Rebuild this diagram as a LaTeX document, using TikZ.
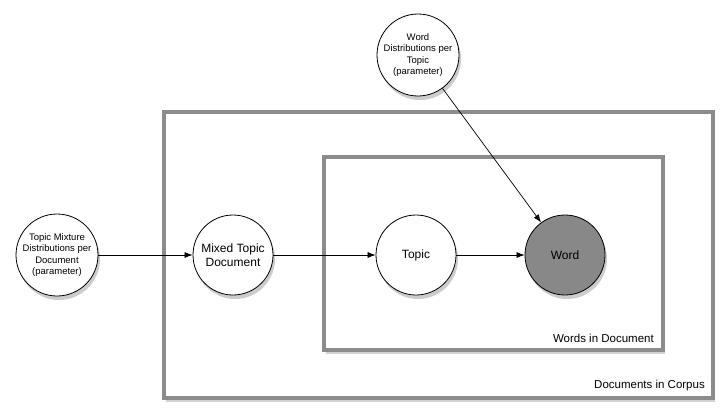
\documentclass[tikz,border=0pt]{standalone}
\usepackage{fontspec}
\setmainfont{Liberation Sans}
\usetikzlibrary{shadows,arrows.meta}
\definecolor{framegray}{HTML}{8C8C8C}
\definecolor{wordgray}{HTML}{888888}
\tikzset{
  plate/.style={draw=framegray, line width=3.5pt, fill=white, drop shadow={opacity=0.35, shadow xshift=2pt, shadow yshift=-4pt}},
  var/.style={circle, draw=black, line width=0.8pt, fill=white, minimum size=80pt, inner sep=0pt, align=center, font=\fontsize{12}{14}\selectfont, drop shadow={opacity=0.4, shadow xshift=2pt, shadow yshift=-4pt}},
  param/.style={var, minimum size=82pt, font=\fontsize{9.5}{11.5}\selectfont},
  conn/.style={-{Latex[length=8pt,width=6pt]}, line width=0.7pt},
  platelabel/.style={anchor=south east, inner sep=0pt, font=\fontsize{11.5}{13}\selectfont}
}
\begin{document}
\begin{tikzpicture}[x=1pt,y=-1pt]
\useasboundingbox (0,0) rectangle (725,415);
\draw[plate] (164,112) rectangle (713,398);
\draw[plate] (324,157) rectangle (663,350);
\node[platelabel] (wl) at (654,343) {Words in Document};
\node[platelabel] (dl) at (705,391) {Documents in Corpus};
\node[param] (tm) at (57,255) {Topic Mixture\\Distributions per\\Document\\(parameter)};
\node[var] (md) at (233,255) {Mixed Topic\\Document};
\node[var] (tp) at (416,255) {Topic};
\node[var, fill=wordgray] (wd) at (565,255) {Word};
\node[param] (wdist) at (418,55) {Word\\Distributions per\\Topic\\(parameter)};
\draw[conn] (tm) -- (md);
\draw[conn] (md) -- (tp);
\draw[conn] (tp) -- (wd);
\draw[conn] (wdist) -- (wd);
\end{tikzpicture}
\end{document}
